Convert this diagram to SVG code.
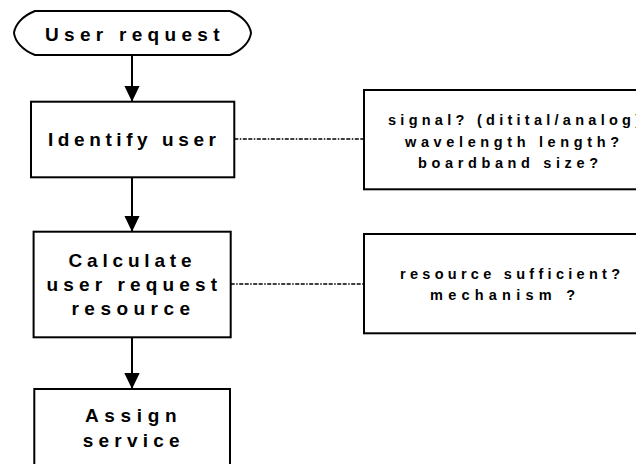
<svg xmlns="http://www.w3.org/2000/svg" width="636" height="464" viewBox="0 0 636 464">
<style>
  .shape { fill: #ffffff; stroke: #000000; stroke-width: 2; }
  .big { font-family: "Liberation Sans", Arial, sans-serif; font-weight: bold; font-size: 19px; fill: #000000; }
  .small { font-family: "Liberation Sans", Arial, sans-serif; font-weight: bold; font-size: 14.5px; fill: #000000; }
  .flow { stroke: #000000; stroke-width: 2; fill: none; }
  .dash { stroke: #000000; stroke-width: 1.5; fill: none; stroke-dasharray: 4 1.5 1.5 1.5 4 1.5; }
</style>
<defs>
  <marker id="arrow" markerUnits="userSpaceOnUse" markerWidth="16" markerHeight="16" refX="16" refY="7.7" orient="auto">
    <path d="M0,0 L16,7.7 L0,15.4 Z" fill="#000000"/>
  </marker>
</defs>
<rect x="0" y="0" width="636" height="464" fill="#ffffff"/>
<g id="connectors">
  <line class="flow" x1="132" y1="55" x2="132" y2="101.7" marker-end="url(#arrow)"/>
  <line class="flow" x1="132" y1="177.3" x2="132" y2="231.7" marker-end="url(#arrow)"/>
  <line class="flow" x1="132" y1="337.3" x2="132" y2="389" marker-end="url(#arrow)"/>
  <line class="dash" x1="234.3" y1="139" x2="364" y2="139"/>
  <line class="dash" x1="230.7" y1="284" x2="364" y2="284"/>
</g>
<g id="user-request">
  <path class="shape" d="M35,11 L230,11 C243,16 250,25 251,33 C250,41 243,50 230,55 L35,55 C22,50 15,41 14,33 C15,25 22,16 35,11 Z"/>
  <text class="big" x="45" y="40.5" textLength="174.5" lengthAdjust="spacing">User request</text>
</g>
<g id="identify-user">
  <rect class="shape" x="31" y="101.7" width="203.3" height="75.6"/>
  <text class="big" x="48" y="145.5" textLength="168" lengthAdjust="spacing">Identify user</text>
</g>
<g id="calculate">
  <rect class="shape" x="33.6" y="231.7" width="197.1" height="105.6"/>
  <text class="big" x="68.5" y="266.5" textLength="123" lengthAdjust="spacing">Calculate</text>
  <text class="big" x="46.5" y="290.5" textLength="170.5" lengthAdjust="spacing">user request</text>
  <text class="big" x="71.5" y="314.5" textLength="118.5" lengthAdjust="spacing">resource</text>
</g>
<g id="assign-service">
  <rect class="shape" x="34.3" y="389" width="195.7" height="100"/>
  <text class="big" x="85" y="422" textLength="91.5" lengthAdjust="spacing">Assign</text>
  <text class="big" x="82.7" y="446.5" textLength="97" lengthAdjust="spacing">service</text>
</g>
<g id="user-questions">
  <rect class="shape" x="364" y="90" width="300" height="99.3"/>
  <text class="small" x="388" y="125" textLength="252" lengthAdjust="spacing">signal? (ditital/analog)</text>
  <text class="small" x="405" y="146.5" textLength="214" lengthAdjust="spacing">wavelength length?</text>
  <text class="small" x="418" y="168" textLength="180" lengthAdjust="spacing">boardband size?</text>
</g>
<g id="resource-questions">
  <rect class="shape" x="364" y="234" width="300" height="99.3"/>
  <text class="small" x="400" y="279" textLength="220" lengthAdjust="spacing">resource sufficient?</text>
  <text class="small" x="430" y="300" textLength="145" lengthAdjust="spacing">mechanism ?</text>
</g>
</svg>
